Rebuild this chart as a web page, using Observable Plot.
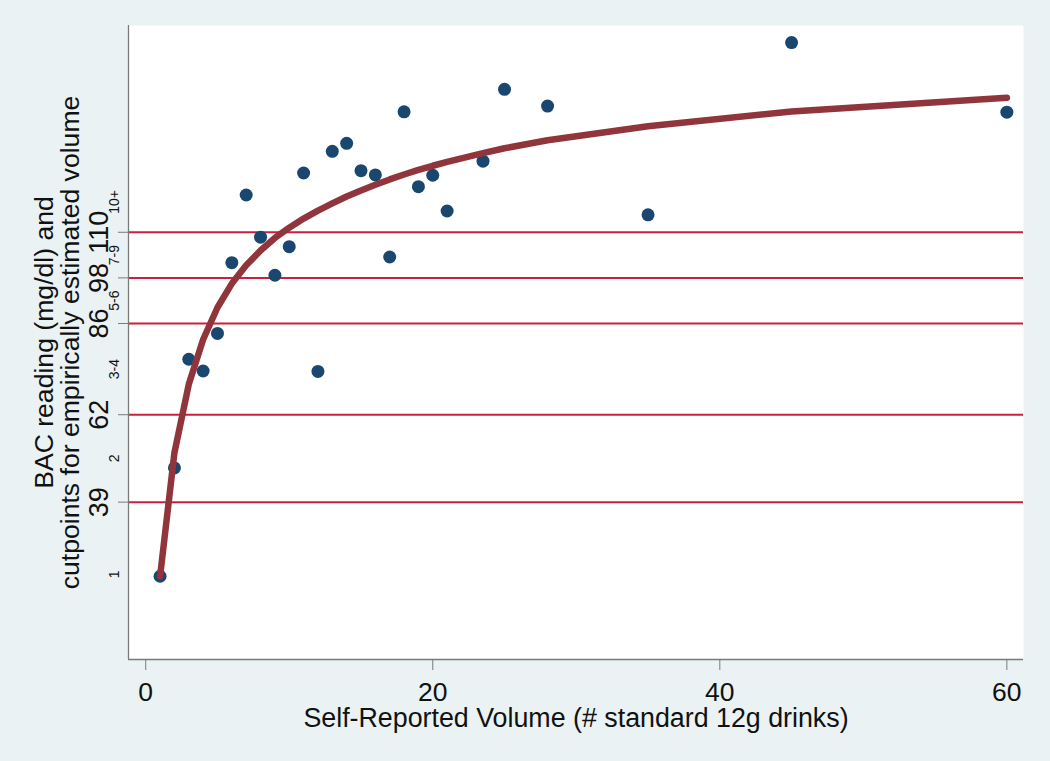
<!DOCTYPE html>
<html>
<head>
<meta charset="utf-8">
<script src="https://cdn.jsdelivr.net/npm/d3@7"></script>
<script src="https://cdn.jsdelivr.net/npm/@observablehq/plot@0.6"></script>
<style>
  html, body { margin: 0; padding: 0; background: #EAF2F3; }
  #chart svg { display: block; }
</style>
</head>
<body>
<div id="chart"></div>
<script>
// Self-reported volume (x) and BAC reading (y) for each observation
const volume = [1, 2, 3, 4, 5, 6, 7, 8, 9, 10, 11, 12, 13, 14, 15, 16, 17, 18, 19, 20, 21, 23.5, 25, 28, 35, 45, 60];
const bac = [19.5, 48.0, 76.6, 73.5, 83.4, 102.0, 119.8, 108.7, 98.7, 106.2, 125.6, 73.4, 131.3, 133.4, 126.2, 125.1, 103.5, 141.7, 122.0, 125.0, 115.6, 128.7, 147.6, 143.2, 114.6, 159.9, 141.6];
// Fitted curve values at each volume
const fitted = [19.5, 52, 70, 81.8, 90.2, 96.5, 101.3, 105.2, 108.5, 111.2, 113.6, 115.7, 117.6, 119.4, 121.0, 122.5, 123.9, 125.2, 126.4, 127.5, 128.5, 130.8, 132.1, 134.2, 137.9, 141.8, 145.4];

// Cutpoints (horizontal lines) and their tick labels
const cutpoints = [39, 62, 86, 98, 110];
// Band labels placed between cutpoints
const bandLabels = ["1", "2", "3-4", "5-6", "7-9", "10+"];
const bandPositions = [20, 50.5, 74, 92, 104, 118];

const xTicks = [0, 20, 40, 60];
const xDomain = [-1.2, 61.16];
const yDomain = [-2.4, 164.4];

const xTitle = "Self-Reported Volume (# standard 12g drinks)";
const yTitle = "BAC reading (mg/dl) and\ncutpoints for empirically estimated volume";

const points = volume.map((v, i) => ({v, bac: bac[i]}));
const fit = volume.map((v, i) => ({v, fit: fitted[i]}));
const bands = bandLabels.map((t, i) => ({t, p: bandPositions[i]}));

const axisColor = "#7a7a7a";

const chart = Plot.plot({
  width: 1050,
  height: 761,
  marginLeft: 128,
  marginRight: 27,
  marginTop: 25,
  marginBottom: 102,
  style: {background: "#EAF2F3", fontFamily: "'Liberation Sans', Arial, sans-serif", color: "#111"},
  x: {domain: xDomain},
  y: {domain: yDomain},
  marks: [
    Plot.frame({fill: "white", stroke: null}),
    Plot.ruleY(cutpoints, {stroke: "#CC1F3F", strokeWidth: 2}),
    Plot.ruleX([xDomain[0]], {stroke: axisColor, strokeWidth: 1.3}),
    Plot.ruleY([yDomain[0]], {stroke: axisColor, strokeWidth: 1.3}),
    Plot.dot(points, {x: "v", y: "bac", r: 6.5, fill: "#1A476F", stroke: null}),
    Plot.line(fit, {x: "v", y: "fit", stroke: "#90353B", strokeWidth: 6.5, strokeLinecap: "round", strokeLinejoin: "round"}),
    Plot.axisX({ticks: xTicks, tickSize: 11, tickPadding: 12, fontSize: 26.5, label: null, stroke: axisColor}),
    Plot.axisY({ticks: cutpoints, tickSize: 10, tickFormat: () => "", label: null, stroke: axisColor}),
    // main y tick labels (rotated)
    Plot.text(cutpoints, {y: d => d, text: d => String(d), frameAnchor: "left", dx: -29.3, rotate: -90, textAnchor: "middle", lineAnchor: "middle", fontSize: 27, fill: "#111"}),
    // small band labels
    Plot.text(bands, {y: "p", text: "t", frameAnchor: "left", dx: -14, rotate: -90, textAnchor: "middle", lineAnchor: "middle", fontSize: 14, fill: "#111"}),
    // y title
    Plot.text([yTitle], {text: d => d, frameAnchor: "left", dx: -71.2, rotate: -90, textAnchor: "middle", lineAnchor: "middle", lineHeight: 1.0, fontSize: 26.6, fill: "#111"}),
    // x title
    Plot.text([xTitle], {text: d => d, frameAnchor: "bottom", dy: 59, textAnchor: "middle", lineAnchor: "middle", fontSize: 26.8, fill: "#111"})
  ]
});

document.getElementById("chart").appendChild(chart);
</script>
</body>
</html>
